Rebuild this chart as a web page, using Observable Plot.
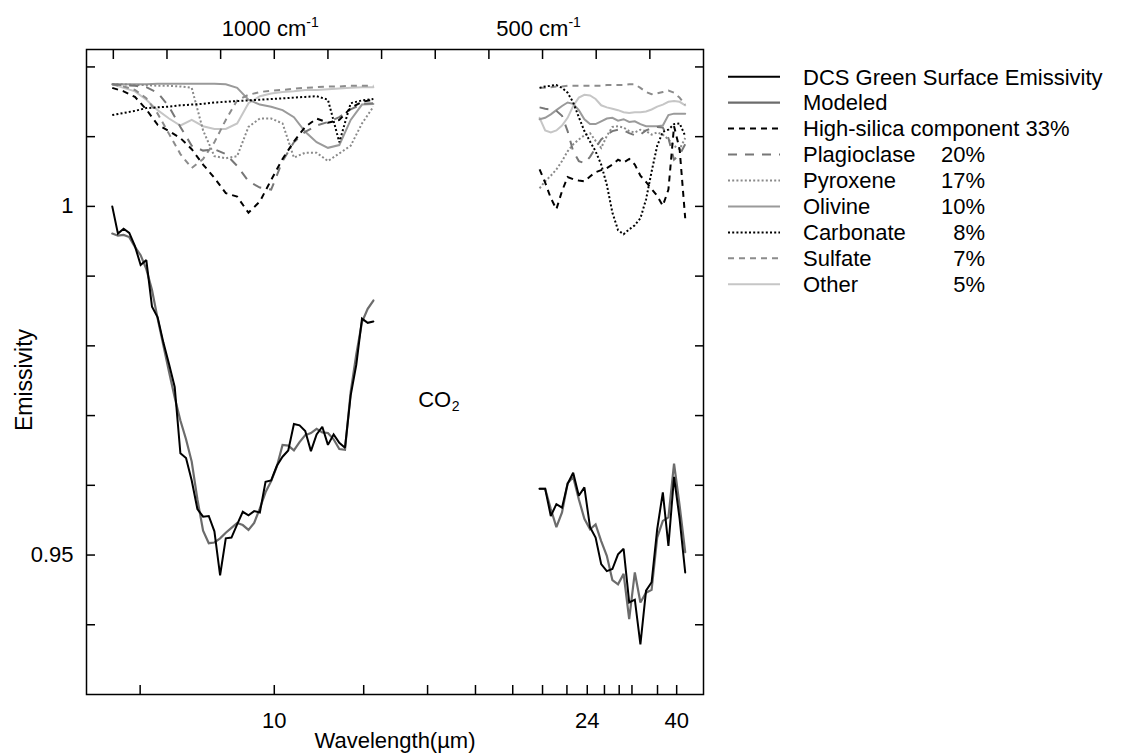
<!DOCTYPE html>
<html><head><meta charset="utf-8">
<script src="https://cdn.jsdelivr.net/npm/d3@7"></script>
<script src="https://cdn.jsdelivr.net/npm/@observablehq/plot@0.6"></script>
<style>
body{margin:0;background:#fff;}
#wrap{position:relative;width:1140px;height:754px;font-family:"Liberation Sans",Arial,Helvetica,sans-serif;}
</style></head><body><div id="wrap"></div>
<script>
// ---------- DATA ----------
// wavenumber grids (cm^-1)
const wavenumberLeft = [1302.0,1291.4,1280.8,1270.3,1259.7,1249.1,1238.5,1227.9,1217.4,1206.8,1196.2,1185.6,1175.0,1164.5,1153.9,1143.3,1132.7,1122.1,1111.6,1101.0,1090.4,1079.8,1069.2,1058.7,1048.1,1037.5,1026.9,1016.3,1005.8,995.2,984.6,974.0,963.4,952.9,942.3,931.7,921.1,910.5,900.0,889.4,878.8,868.2,857.6,847.1,836.5,825.9,815.3];
const wavenumberRight = [505.5,495.1,484.6,474.2,463.7,453.3,442.9,432.4,422.0,411.5,401.1,390.7,380.2,369.8,359.3,348.9,338.5,328.0,317.6,307.1,296.7,286.3,275.8,265.4,254.9,244.5,234.1];
const wavenumberLeftComponents = [1302.0,1280.8,1259.7,1238.5,1217.4,1196.2,1175.0,1153.9,1132.7,1111.6,1090.4,1069.2,1048.1,1026.9,1005.8,984.6,963.4,942.3,921.1,900.0,878.8,857.6,836.5,815.3];

const measuredLeft = [1.0000,0.9961,0.9968,0.9962,0.9943,0.9916,0.9923,0.9856,0.9841,0.9805,0.9774,0.9741,0.9646,0.9639,0.9607,0.9566,0.9555,0.9556,0.9534,0.9471,0.9524,0.9525,0.9544,0.9562,0.9557,0.9563,0.9561,0.9605,0.9607,0.9628,0.9641,0.9650,0.9688,0.9686,0.9678,0.9649,0.9673,0.9684,0.9658,0.9673,0.9661,0.9654,0.9729,0.9773,0.9839,0.9833,0.9835];
const modeledLeft = [0.9961,0.9958,0.9959,0.9956,0.9942,0.9930,0.9910,0.9880,0.9839,0.9801,0.9763,0.9726,0.9693,0.9666,0.9634,0.9580,0.9535,0.9517,0.9518,0.9524,0.9532,0.9539,0.9546,0.9543,0.9536,0.9546,0.9567,0.9590,0.9606,0.9627,0.9658,0.9657,0.9650,0.9662,0.9672,0.9675,0.9681,0.9676,0.9675,0.9666,0.9652,0.9651,0.9734,0.9788,0.9834,0.9853,0.9865];
const measuredRight = [0.9595,0.9595,0.9556,0.9573,0.9568,0.9602,0.9618,0.9585,0.9597,0.9540,0.9525,0.9487,0.9477,0.9480,0.9501,0.9509,0.9432,0.9436,0.9372,0.9449,0.9461,0.9537,0.9590,0.9513,0.9612,0.9552,0.9475];
const modeledRight = [0.9595,0.9595,0.9566,0.9540,0.9561,0.9603,0.9612,0.9580,0.9552,0.9537,0.9544,0.9520,0.9499,0.9464,0.9458,0.9473,0.9408,0.9475,0.9432,0.9446,0.9450,0.9525,0.9549,0.9554,0.9631,0.9571,0.9504];

const highSilicaLeft = [1.0170,1.0165,1.0157,1.0139,1.0117,1.0108,1.0098,1.0082,1.0060,1.0041,1.0019,1.0014,0.9991,1.0007,1.0038,1.0068,1.0093,1.0114,1.0126,1.0120,1.0124,1.0141,1.0150,1.0153];
const plagioclaseLeft = [1.0175,1.0174,1.0173,1.0171,1.0163,1.0143,1.0114,1.0087,1.0080,1.0082,1.0075,1.0058,1.0036,1.0027,1.0024,1.0065,1.0092,1.0107,1.0116,1.0121,1.0128,1.0139,1.0147,1.0148];
const pyroxeneLeft = [1.0175,1.0175,1.0174,1.0174,1.0173,1.0173,1.0172,1.0170,1.0109,1.0072,1.0069,1.0072,1.0114,1.0126,1.0126,1.0119,1.0070,1.0077,1.0077,1.0065,1.0076,1.0087,1.0119,1.0143];
const olivineLeft = [1.0175,1.0175,1.0175,1.0175,1.0176,1.0176,1.0176,1.0176,1.0176,1.0176,1.0175,1.0170,1.0153,1.0146,1.0143,1.0138,1.0128,1.0107,1.0092,1.0084,1.0088,1.0124,1.0146,1.0147];
const carbonateLeft = [1.0131,1.0134,1.0137,1.0141,1.0142,1.0143,1.0145,1.0146,1.0147,1.0149,1.0150,1.0151,1.0152,1.0153,1.0154,1.0155,1.0156,1.0157,1.0158,1.0153,1.0092,1.0148,1.0152,1.0154];
const sulfateLeft = [1.0175,1.0172,1.0167,1.0155,1.0133,1.0104,1.0075,1.0055,1.0068,1.0092,1.0124,1.0152,1.0160,1.0164,1.0166,1.0167,1.0169,1.0170,1.0171,1.0172,1.0172,1.0173,1.0173,1.0173];
const otherLeft = [1.0175,1.0170,1.0165,1.0153,1.0138,1.0126,1.0116,1.0124,1.0115,1.0111,1.0111,1.0119,1.0148,1.0158,1.0162,1.0164,1.0165,1.0167,1.0167,1.0168,1.0169,1.0170,1.0171,1.0171];

const highSilicaRight = [1.0053,1.0034,1.0012,0.9996,1.0022,1.0042,1.0039,1.0037,1.0036,1.0043,1.0049,1.0052,1.0055,1.0060,1.0067,1.0063,1.0068,1.0060,1.0044,1.0035,1.0025,1.0015,1.0001,1.0024,1.0115,1.0082,0.9983];
const plagioclaseRight = [1.0142,1.0140,1.0139,1.0137,1.0130,1.0108,1.0079,1.0065,1.0062,1.0071,1.0084,1.0096,1.0103,1.0108,1.0110,1.0109,1.0105,1.0102,1.0103,1.0109,1.0112,1.0114,1.0113,1.0098,1.0067,1.0074,1.0089];
const pyroxeneRight = [1.0026,1.0036,1.0044,1.0053,1.0065,1.0079,1.0089,1.0096,1.0102,1.0105,1.0094,1.0084,1.0101,1.0114,1.0115,1.0113,1.0108,1.0106,1.0110,1.0108,1.0103,1.0106,1.0103,1.0096,1.0087,1.0082,1.0098];
const olivineRight = [1.0125,1.0127,1.0132,1.0138,1.0144,1.0149,1.0147,1.0138,1.0125,1.0118,1.0118,1.0122,1.0126,1.0127,1.0123,1.0125,1.0121,1.0122,1.0118,1.0115,1.0115,1.0115,1.0116,1.0131,1.0133,1.0133,1.0133];
const carbonateRight = [1.0170,1.0172,1.0173,1.0174,1.0170,1.0163,1.0149,1.0128,1.0108,1.0093,1.0079,1.0060,1.0031,0.9991,0.9966,0.9960,0.9967,0.9973,0.9983,1.0010,1.0050,1.0087,1.0107,1.0110,1.0118,1.0119,1.0101];
const sulfateRight = [1.0170,1.0170,1.0171,1.0172,1.0172,1.0173,1.0173,1.0173,1.0173,1.0173,1.0173,1.0173,1.0174,1.0174,1.0174,1.0174,1.0175,1.0175,1.0170,1.0164,1.0161,1.0162,1.0164,1.0166,1.0163,1.0156,1.0146];
const otherRight = [1.0127,1.0109,1.0106,1.0109,1.0116,1.0127,1.0144,1.0156,1.0160,1.0159,1.0154,1.0145,1.0142,1.0140,1.0138,1.0135,1.0134,1.0135,1.0135,1.0136,1.0139,1.0143,1.0146,1.0150,1.0151,1.0150,1.0145];

// axis ticks
const bottomTickWavelengths = [8,10,12,14,16,18,20,22,24,26,28,30,35,40];
const bottomLabelWavelengths = [10,24,40];
const topTickWavenumbers = [1300,1200,1100,1000,900,800,700,600,500,400,300];
const topLabelWavenumbers = [1000,500];
const yTicks = [0.94,0.95,0.96,0.97,0.98,0.99,1.00,1.01,1.02];
const yLabelTicks = [0.95,1];

// legend
const legendKeys = ["measured","modeled","highSilica","plagioclase","pyroxene","olivine","carbonate","sulfate","other"];
const legendNames = ["DCS Green Surface Emissivity","Modeled","High-silica component 33%","Plagioclase","Pyroxene","Olivine","Carbonate","Sulfate","Other"];
const legendPercents = ["","","","20%","17%","10%","8%","7%","5%"];

const co2Annotation = [{wavenumber:701, emissivity:0.9722, text:"CO", sub:"2"}];

// ---------- STYLES ----------
const styles = {
  measured:   {stroke:"#000000", strokeWidth:2},
  modeled:    {stroke:"#6c6c6c", strokeWidth:2.2},
  highSilica: {stroke:"#000000", strokeWidth:2, strokeDasharray:"6,5"},
  plagioclase:{stroke:"#777777", strokeWidth:2, strokeDasharray:"9,8"},
  pyroxene:   {stroke:"#8a8a8a", strokeWidth:2, strokeDasharray:"2,2.2"},
  olivine:    {stroke:"#9a9a9a", strokeWidth:2},
  carbonate:  {stroke:"#000000", strokeWidth:2, strokeDasharray:"2,2.2"},
  sulfate:    {stroke:"#8c8c8c", strokeWidth:2, strokeDasharray:"6,5"},
  other:      {stroke:"#c6c6c6", strokeWidth:2}
};

function series(key, parts) {
  return parts.flatMap(([wn, vals, part]) => wn.map((w, i) => ({key, part: key + part, wn: w, e: vals[i]})));
}
const data = {
  measured: series("measured", [[wavenumberLeft, measuredLeft, "L"], [wavenumberRight, measuredRight, "R"]]),
  modeled: series("modeled", [[wavenumberLeft, modeledLeft, "L"], [wavenumberRight, modeledRight, "R"]]),
  highSilica: series("highSilica", [[wavenumberLeftComponents, highSilicaLeft, "L"], [wavenumberRight, highSilicaRight, "R"]]),
  plagioclase: series("plagioclase", [[wavenumberLeftComponents, plagioclaseLeft, "L"], [wavenumberRight, plagioclaseRight, "R"]]),
  pyroxene: series("pyroxene", [[wavenumberLeftComponents, pyroxeneLeft, "L"], [wavenumberRight, pyroxeneRight, "R"]]),
  olivine: series("olivine", [[wavenumberLeftComponents, olivineLeft, "L"], [wavenumberRight, olivineRight, "R"]]),
  carbonate: series("carbonate", [[wavenumberLeftComponents, carbonateLeft, "L"], [wavenumberRight, carbonateRight, "R"]]),
  sulfate: series("sulfate", [[wavenumberLeftComponents, sulfateLeft, "L"], [wavenumberRight, sulfateRight, "R"]]),
  other: series("other", [[wavenumberLeftComponents, otherLeft, "L"], [wavenumberRight, otherRight, "R"]])
};
const drawOrder = ["other","olivine","sulfate","pyroxene","plagioclase","carbonate","highSilica","modeled","measured"];

const FONT = 22;
const lineMarks = drawOrder.map(k => Plot.line(data[k], {
  x: "wn", y: "e", z: "part", ...styles[k],
  strokeLinecap: styles[k].strokeDasharray ? "butt" : "round",
  strokeLinejoin: "miter", strokeMiterlimit: 2
}));

const chart = Plot.plot({
  width: 1140, height: 754,
  marginLeft: 86, marginRight: 437, marginTop: 49, marginBottom: 60,
  style: {fontFamily: '"Liberation Sans", Arial, Helvetica, sans-serif', fontSize: FONT + "px", background: "white", color: "black"},
  x: {type: "linear", domain: [1350, 200]},
  y: {domain: [0.93, 1.0225]},
  marks: [
    ...lineMarks,
    Plot.axisX(bottomTickWavelengths.map(w => 10000 / w), {anchor: "bottom", tickSize: -9, tickFormat: () => "", label: null, strokeWidth: 1.5}),
    Plot.axisX(bottomLabelWavelengths.map(w => 10000 / w), {anchor: "bottom", tickSize: 0, tickPadding: 18, fontSize: FONT, tickFormat: d => String(Math.round(10000 / d)), label: null}),
    Plot.axisX(topTickWavenumbers, {anchor: "top", tickSize: -9, tickFormat: () => "", label: null, strokeWidth: 1.5}),
    Plot.axisX(topLabelWavenumbers, {anchor: "top", tickSize: 0, tickPadding: 14, dx: -4, fontSize: FONT, tickFormat: d => `${d} cm-1`, label: null}),
    Plot.axisY(yTicks, {anchor: "left", tickSize: -9, tickFormat: () => "", label: null, strokeWidth: 1.5}),
    Plot.axisY(yLabelTicks, {anchor: "left", tickSize: 0, tickPadding: 13, fontSize: FONT, tickFormat: d => String(d), label: null}),
    Plot.axisY(yTicks, {anchor: "right", tickSize: -9, tickFormat: () => "", label: null, strokeWidth: 1.5}),
    Plot.frame({stroke: "black", strokeWidth: 1.5}),
    Plot.text(["Wavelength(µm)"], {frameAnchor: "bottom", dy: 46, lineAnchor: "middle", fontSize: FONT}),
    Plot.text(["Emissivity"], {frameAnchor: "left", rotate: -90, dx: -55, dy: 8, textAnchor: "middle", lineAnchor: "bottom", fontSize: 23}),
    Plot.text(co2Annotation, {x: "wavenumber", y: "emissivity", text: "text", textAnchor: "middle", lineAnchor: "middle", fontSize: FONT}),
    Plot.text(co2Annotation, {x: "wavenumber", y: "emissivity", text: "sub", textAnchor: "start", lineAnchor: "middle", dx: 17, dy: 6, fontSize: 14})
  ]
});

const NS = "http://www.w3.org/2000/svg";
chart.querySelectorAll("text").forEach(t => {
  const s = t.textContent;
  if (/ cm-1$/.test(s)) {
    // superscript exponent for wavenumber labels
    const base = s.slice(0, -2);
    t.textContent = "";
    const a = document.createElementNS(NS, "tspan"); a.textContent = base; t.appendChild(a);
    const b = document.createElementNS(NS, "tspan"); b.textContent = "-1"; b.setAttribute("dy", "-9"); b.setAttribute("font-size", "14"); t.appendChild(b);
  }
});

const wrap = document.getElementById("wrap");
wrap.appendChild(chart);

// legend overlay
const legend = d3.select(wrap).append("svg")
  .attr("width", 1140).attr("height", 754)
  .style("position", "absolute").style("left", "0px").style("top", "0px")
  .style("font-family", '"Liberation Sans", Arial, Helvetica, sans-serif')
  .style("font-size", FONT + "px");
const rowY0 = 76.7, rowStep = 25.95;
legendKeys.forEach((k, i) => {
  const y = rowY0 + i * rowStep;
  const st = styles[k];
  legend.append("line").attr("x1", 728).attr("x2", 780).attr("y1", y).attr("y2", y)
    .attr("stroke", st.stroke).attr("stroke-width", st.strokeWidth)
    .attr("stroke-dasharray", st.strokeDasharray || null);
  legend.append("text").attr("x", 803).attr("y", y + 7.8).attr("fill", "black").text(legendNames[i]);
  if (legendPercents[i]) legend.append("text").attr("x", 985).attr("y", y + 7.8).attr("text-anchor", "end").attr("fill", "black").text(legendPercents[i]);
});
</script></body></html>
